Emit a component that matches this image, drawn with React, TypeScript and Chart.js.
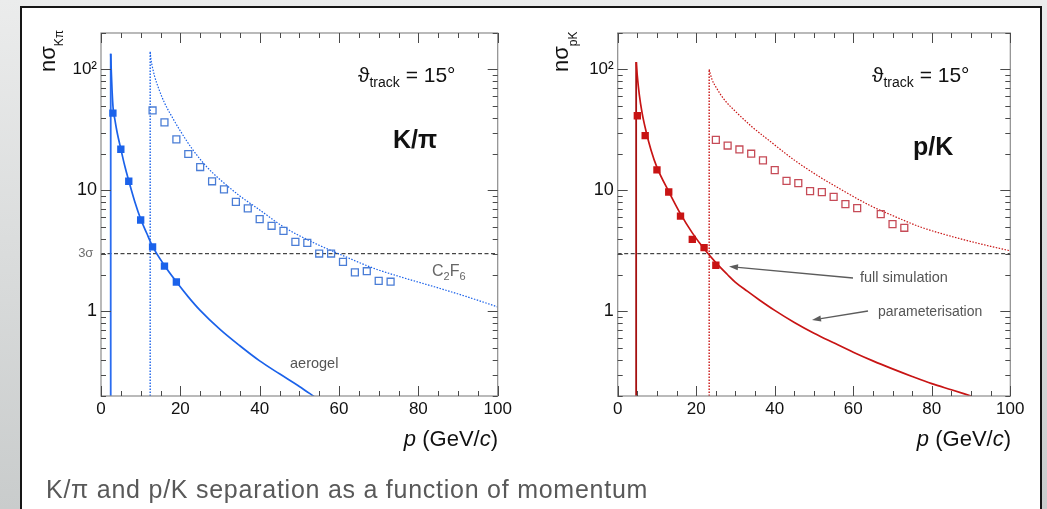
import React, { useEffect, useRef } from 'react';
import { Chart, registerables } from 'chart.js';

Chart.register(...registerables);

const FONT = '"Liberation Sans", Arial, Helvetica, sans-serif';

// ---------------- axes ----------------
const P_MIN = 0;
const P_MAX = 100;
const N_MIN = 0.2;
const N_MAX = 200;
const kpiYTickValues = [1, 3, 10, 100];
const kpiYTickLabels = ['1', '3σ ', '10', '10²'];
const pkYTickValues = [1, 10, 100];
const pkYTickLabels = ['1', '10', '10²'];

// ---------------- K/π panel ----------------
const kpiAerogelThreshold = 2.45;
const kpiAerogelP = [2.45, 2.6, 2.8, 3.05, 3.5, 4, 5, 6, 7, 8.5, 10, 11.5, 13, 16, 19, 22, 25, 30, 35, 40, 45, 50, 54];
const kpiAerogelN = [135, 95, 66, 48, 38.5, 31, 22, 15.9, 12, 8.1, 5.8, 4.45, 3.45, 2.4, 1.76, 1.32, 1.02, 0.71, 0.52, 0.39, 0.305, 0.24, 0.195];
const kpiC2f6Threshold = 12.4;
const kpiC2f6P = [12.4, 12.6, 13, 13.5, 14.5, 16, 18, 20, 23, 26.7, 30, 35, 40, 46, 53.6, 60.4, 68.8, 75.5, 84, 92, 100];
const kpiC2f6N = [140, 121, 103, 88, 70, 53, 40, 31, 22, 15.6, 12.3, 9.0, 6.9, 5.0, 3.7, 2.95, 2.27, 1.93, 1.6, 1.33, 1.09];
const kpiSimAerogelP = [3, 5, 7, 10, 13, 16, 19];
const kpiSimAerogelN = [43.5, 21.9, 11.9, 5.7, 3.42, 2.37, 1.75];
const kpiSimC2f6P = [13, 16, 19, 22, 25, 28, 31, 34, 37, 40, 43, 46, 49, 52, 55, 58, 61, 64, 67, 70, 73];
const kpiSimC2f6N = [45.8, 36.5, 26.4, 20.0, 15.6, 11.9, 10.2, 8.05, 7.1, 5.79, 5.1, 4.63, 3.76, 3.69, 3.01, 3.01, 2.57, 2.1, 2.15, 1.79, 1.76];

// ---------------- p/K panel ----------------
const pkAerogelThreshold = 4.7;
const pkAerogelP = [4.75, 5.0, 5.5, 6.2, 7.2, 8.5, 10, 13, 16, 19, 22, 25, 28, 30, 33, 36, 40, 45, 50, 55, 60, 65, 70, 75, 80, 85, 90];
const pkAerogelN = [115, 88, 62, 44, 31, 21.5, 15.5, 9.8, 6.4, 4.46, 3.29, 2.53, 2.01, 1.74, 1.47, 1.25, 1.02, 0.81, 0.66, 0.55, 0.46, 0.39, 0.335, 0.29, 0.253, 0.225, 0.2];
const pkC2f6Threshold = 23.3;
const pkC2f6P = [23.3, 24, 25.2, 27, 30.3, 34, 38.8, 45, 51.5, 58, 64.3, 70, 77, 83, 89.7, 95, 100];
const pkC2f6N = [100, 83, 70, 57, 44, 34, 25.5, 17.8, 12.9, 9.7, 7.5, 6.2, 5.0, 4.35, 3.8, 3.45, 3.17];
const pkSimAerogelP = [5, 7, 10, 13, 16, 19, 22, 25];
const pkSimAerogelN = [41.4, 28.4, 14.8, 9.7, 6.13, 3.94, 3.37, 2.41];
const pkSimC2f6P = [25, 28, 31, 34, 37, 40, 43, 46, 49, 52, 55, 58, 61, 67, 70, 73];
const pkSimC2f6N = [26.2, 23.5, 21.8, 20.1, 17.7, 14.7, 12.0, 11.5, 9.87, 9.68, 8.85, 7.7, 7.14, 6.37, 5.26, 4.91];

// 3σ reference line
const threeSigmaP = [0, 100];
const threeSigmaN = [3, 3];

const pts = (xs: number[], ys: number[]) => xs.map((x, i) => ({ x, y: ys[i] }));
const vline = (x: number, top: number) => [{ x, y: N_MIN }, { x, y: top }];

type Run = { t: string; size: number; dy?: number; italic?: boolean; bold?: boolean };
const fontOf = (r: Run) => `${r.italic ? 'italic ' : ''}${r.bold ? 'bold ' : ''}${r.size}px ${FONT}`;

function drawRuns(ctx: CanvasRenderingContext2D, x: number, y: number, runs: Run[], align: 'left' | 'right' = 'left', color = '#111') {
  ctx.save();
  ctx.fillStyle = color;
  ctx.textBaseline = 'alphabetic';
  ctx.textAlign = 'left';
  let total = 0;
  for (const r of runs) {
    ctx.font = fontOf(r);
    total += ctx.measureText(r.t).width;
  }
  let cx = align === 'right' ? x - total : x;
  for (const r of runs) {
    ctx.font = fontOf(r);
    ctx.fillText(r.t, cx, y + (r.dy || 0));
    cx += ctx.measureText(r.t).width;
  }
  ctx.restore();
}

function drawArrow(ctx: CanvasRenderingContext2D, x1: number, y1: number, x2: number, y2: number) {
  ctx.save();
  ctx.strokeStyle = '#5c5c5c';
  ctx.fillStyle = '#5c5c5c';
  ctx.lineWidth = 1.3;
  const a = Math.atan2(y2 - y1, x2 - x1);
  const hl = 9;
  const hw = 3;
  const bx = x2 - hl * Math.cos(a);
  const by = y2 - hl * Math.sin(a);
  ctx.beginPath();
  ctx.moveTo(x1, y1);
  ctx.lineTo(bx, by);
  ctx.stroke();
  ctx.beginPath();
  ctx.moveTo(x2, y2);
  ctx.lineTo(bx + hw * Math.sin(a), by - hw * Math.cos(a));
  ctx.lineTo(bx - hw * Math.sin(a), by + hw * Math.cos(a));
  ctx.closePath();
  ctx.fill();
  ctx.restore();
}

const frameTicksPlugin = {
  id: 'frameTicks',
  afterDatasetsDraw(chart: any) {
    const { ctx, chartArea } = chart;
    const { left, right, top, bottom } = chartArea;
    const xs = chart.scales.x;
    const ys = chart.scales.y;
    ctx.save();
    ctx.strokeStyle = '#8c8c8c';
    ctx.lineWidth = 1.2;
    ctx.strokeRect(left, top, right - left, bottom - top);
    ctx.strokeStyle = '#4a4a4a';
    ctx.lineWidth = 1;
    ctx.beginPath();
    for (let v = P_MIN; v <= P_MAX; v += 5) {
      const px = Math.round(xs.getPixelForValue(v)) + 0.5;
      const len = v % 20 === 0 ? 10 : 5;
      ctx.moveTo(px, bottom);
      ctx.lineTo(px, bottom - len);
      ctx.moveTo(px, top);
      ctx.lineTo(px, top + len);
    }
    for (const d of [0.1, 1, 10, 100]) {
      for (let m = 1; m <= 9; m++) {
        const v = m * d;
        if (v < N_MIN - 1e-9 || v > N_MAX + 1e-9) continue;
        const py = Math.round(ys.getPixelForValue(v)) + 0.5;
        const len = m === 1 ? 10 : 5;
        ctx.moveTo(left, py);
        ctx.lineTo(left + len, py);
        ctx.moveTo(right, py);
        ctx.lineTo(right - len, py);
      }
    }
    ctx.stroke();
    ctx.restore();
  },
};

type Panel = {
  padLeft: number;
  padRight: number;
  yWidth: number;
  yTicks: number[];
  yLabels: string[];
  color: string;
  dark: string;
  openColor: string;
  aeroThr: number;
  aeroP: number[];
  aeroN: number[];
  gasThr: number;
  gasP: number[];
  gasN: number[];
  simAP: number[];
  simAN: number[];
  simGP: number[];
  simGN: number[];
  draw: (ctx: CanvasRenderingContext2D) => void;
};

function makeConfig(p: Panel): any {
  return {
    type: 'scatter',
    data: {
      datasets: [
        {
          data: pts(p.simAP, p.simAN), pointStyle: 'rect', pointRadius: 5.2, backgroundColor: p.color,
          borderColor: p.color, borderWidth: 0, showLine: false,
        },
        {
          data: pts(p.simGP, p.simGN), pointStyle: 'rect', pointRadius: 4.9, backgroundColor: 'rgba(255,255,255,0)',
          borderColor: p.openColor, borderWidth: 1.3, showLine: false,
        },
        {
          data: pts(p.aeroP, p.aeroN), showLine: true, pointRadius: 0, borderColor: p.color, borderWidth: 1.7,
          cubicInterpolationMode: 'monotone',
        },
        {
          data: vline(p.aeroThr, p.aeroN[0]), showLine: true, pointRadius: 0, borderColor: p.dark, borderWidth: 1.8,
        },
        {
          data: pts(p.gasP, p.gasN), showLine: true, pointRadius: 0, borderColor: p.color, borderWidth: 1.2,
          borderDash: [1.5, 1.5], cubicInterpolationMode: 'monotone',
        },
        {
          data: vline(p.gasThr, p.gasN[0]), showLine: true, pointRadius: 0, borderColor: p.color, borderWidth: 1.4,
          borderDash: [1.5, 1.5],
        },
        {
          data: pts(threeSigmaP, threeSigmaN), showLine: true, pointRadius: 0, borderColor: '#1a1a1a', borderWidth: 1,
          borderDash: [4, 2.5],
        },
      ],
    },
    options: {
      animation: false,
      responsive: false,
      maintainAspectRatio: false,
      events: [],
      layout: { padding: { left: p.padLeft, right: p.padRight, top: 33, bottom: 53 } },
      plugins: { legend: { display: false }, tooltip: { enabled: false } },
      scales: {
        x: {
          type: 'linear', min: P_MIN, max: P_MAX,
          grid: { display: false, drawTicks: false }, border: { display: false },
          ticks: { stepSize: 20, padding: 3, color: '#111', maxRotation: 0, autoSkip: false, font: { family: FONT, size: 17 } },
          afterFit(s: any) { s.height = 60; s.paddingLeft = 0; s.paddingRight = 0; },
        },
        y: {
          type: 'logarithmic', min: N_MIN, max: N_MAX,
          grid: { display: false, drawTicks: false }, border: { display: false },
          afterBuildTicks(s: any) { s.ticks = p.yTicks.map((v) => ({ value: v })); },
          ticks: {
            autoSkip: false, padding: 4,
            callback: (v: number) => { const i = p.yTicks.indexOf(v); return i >= 0 ? p.yLabels[i] : ''; },
            color: (c: any) => (c.tick && c.tick.value === 3 ? '#6e6e6e' : '#111'),
            font: (c: any) => ({ family: FONT, size: c.tick && c.tick.value === 3 ? 13 : c.tick && c.tick.value === 100 ? 17 : 18 }),
          },
          afterFit(s: any) { s.width = p.yWidth; s.paddingTop = 0; s.paddingBottom = 0; },
        },
      },
    },
    plugins: [
      frameTicksPlugin,
      { id: 'panelText', afterDraw(chart: any) { p.draw(chart.ctx); } },
    ],
  };
}

const thetaRuns: Run[] = [
  { t: 'ϑ', size: 21 },
  { t: 'track', size: 14, dy: 5 },
  { t: ' = 15°', size: 21 },
];
const pRuns: Run[] = [
  { t: 'p', size: 22, italic: true },
  { t: ' (GeV/', size: 22 },
  { t: 'c', size: 22, italic: true },
  { t: ')', size: 22 },
];

function yTitle(ctx: CanvasRenderingContext2D, x: number, sub: string) {
  ctx.save();
  ctx.translate(x, 72);
  ctx.rotate(-Math.PI / 2);
  drawRuns(ctx, 0, 0, [{ t: 'nσ', size: 22 }, { t: sub, size: 12, dy: 8.5 }]);
  ctx.restore();
}

const kpiPanel: Panel = {
  padLeft: 0, padRight: 1047 - 497.7, yWidth: 101,
  yTicks: kpiYTickValues, yLabels: kpiYTickLabels,
  color: '#1b62ea', dark: '#2a6cf0', openColor: '#4a7dd6',
  aeroThr: kpiAerogelThreshold, aeroP: kpiAerogelP, aeroN: kpiAerogelN,
  gasThr: kpiC2f6Threshold, gasP: kpiC2f6P, gasN: kpiC2f6N,
  simAP: kpiSimAerogelP, simAN: kpiSimAerogelN, simGP: kpiSimC2f6P, simGN: kpiSimC2f6N,
  draw(ctx) {
    drawRuns(ctx, 358, 82, thetaRuns);
    drawRuns(ctx, 393, 148, [{ t: 'K/π', size: 25, bold: true }]);
    drawRuns(ctx, 432, 276, [
      { t: 'C', size: 16 }, { t: '2', size: 11, dy: 4 }, { t: 'F', size: 16 }, { t: '6', size: 11, dy: 4 },
    ], 'left', '#666');
    drawRuns(ctx, 290, 368, [{ t: 'aerogel', size: 14.5 }], 'left', '#555');
    drawRuns(ctx, 498, 446, pRuns, 'right');
    yTitle(ctx, 54.5, 'Kπ');
  },
};

const pkPanel: Panel = {
  padLeft: 520, padRight: 1047 - 1010.3, yWidth: 97.7,
  yTicks: pkYTickValues, yLabels: pkYTickLabels,
  color: '#c81414', dark: '#a50f0f', openColor: '#c64b57',
  aeroThr: pkAerogelThreshold, aeroP: pkAerogelP, aeroN: pkAerogelN,
  gasThr: pkC2f6Threshold, gasP: pkC2f6P, gasN: pkC2f6N,
  simAP: pkSimAerogelP, simAN: pkSimAerogelN, simGP: pkSimC2f6P, simGN: pkSimC2f6N,
  draw(ctx) {
    drawRuns(ctx, 872, 82, thetaRuns);
    drawRuns(ctx, 913, 155, [{ t: 'p/K', size: 25, bold: true }]);
    drawRuns(ctx, 860, 281.5, [{ t: 'full simulation', size: 14.5 }], 'left', '#555');
    drawRuns(ctx, 878, 316, [{ t: 'parameterisation', size: 14 }], 'left', '#555');
    drawArrow(ctx, 853, 278, 729, 266.5);
    drawArrow(ctx, 868, 311, 812, 320);
    drawRuns(ctx, 1011, 446, pRuns, 'right');
    yTitle(ctx, 568.3, 'pK');
  },
};

function ChartCanvas({ panel }: { panel: Panel }) {
  const ref = useRef<HTMLCanvasElement>(null);
  useEffect(() => {
    const chart = new Chart(ref.current as HTMLCanvasElement, makeConfig(panel));
    return () => chart.destroy();
  }, [panel]);
  return (
    <canvas
      ref={ref}
      width={1047}
      height={509}
      style={{ position: 'absolute', left: 0, top: 0, width: 1047, height: 509 }}
    />
  );
}

export default function App() {
  return (
    <div
      style={{
        position: 'absolute', left: 0, top: 0, width: 1047, height: 509, overflow: 'hidden',
        background: 'linear-gradient(180deg, #ebecec 0%, #c9cccc 100%)', fontFamily: FONT,
      }}
    >
      <div
        style={{
          position: 'absolute', left: 20, top: 6, width: 1022, height: 540, background: '#fff',
          border: '2px solid #161616', boxSizing: 'border-box',
        }}
      />
      <ChartCanvas panel={kpiPanel} />
      <ChartCanvas panel={pkPanel} />
      <div
        style={{
          position: 'absolute', left: 46, top: 475, fontSize: 25, lineHeight: '29px', color: '#595959',
          whiteSpace: 'nowrap', letterSpacing: '0.75px',
        }}
      >
        K/π and p/K separation as a function of momentum
      </div>
    </div>
  );
}
